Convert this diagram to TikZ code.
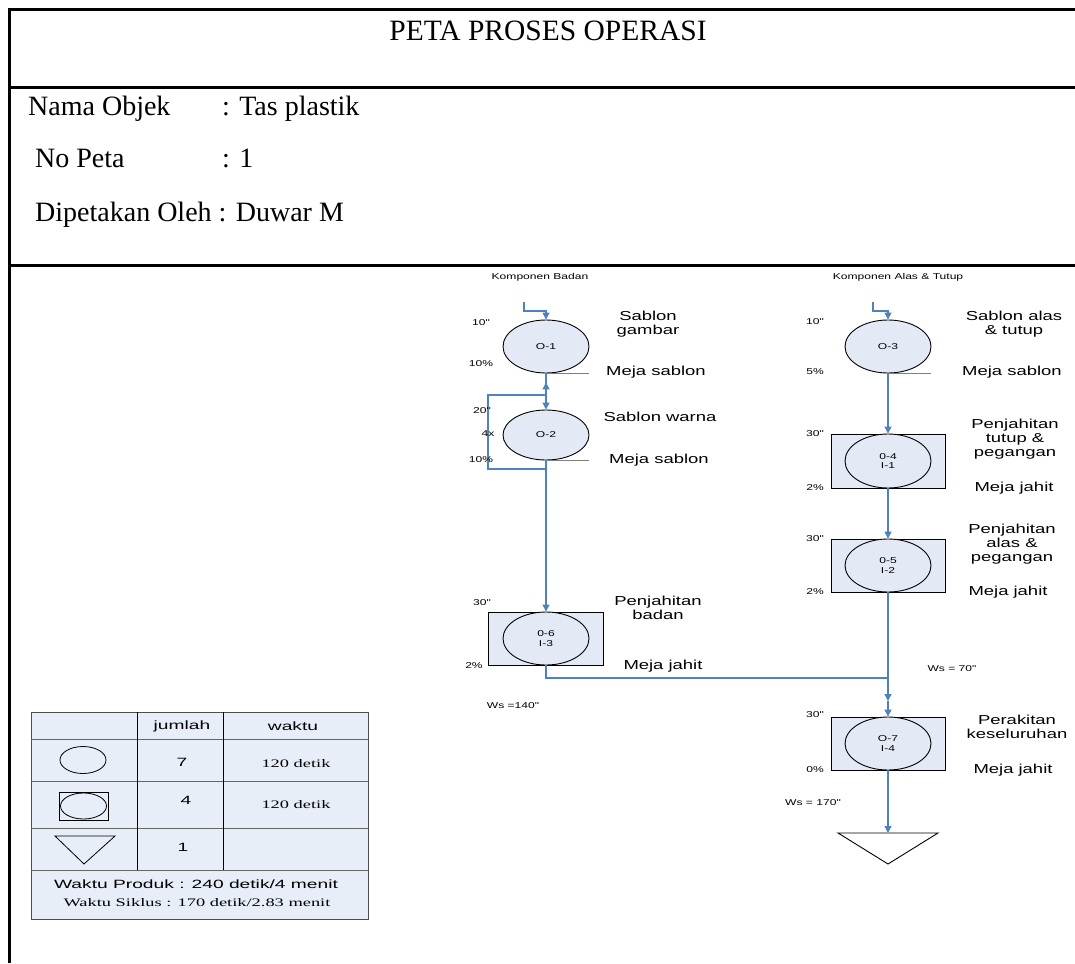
\documentclass[tikz,border=0pt]{standalone}
\usepackage{fontspec}
\usepackage{graphicx}
\setmainfont{Liberation Serif}
\newfontfamily\arialA[FakeStretch=1.42]{Liberation Sans}
\newfontfamily\arialB[FakeStretch=1.6]{Liberation Sans}
\newfontfamily\timesB[FakeStretch=1.6]{Liberation Serif}
\usetikzlibrary{shapes.geometric,arrows.meta}
\definecolor{fillc}{HTML}{E4EAF5}
\definecolor{tabfill}{HTML}{E8EEF7}
\definecolor{flowc}{HTML}{4F81BD}
\begin{document}
\begin{tikzpicture}[x=1pt,y=-1pt,
  frame/.style={line width=3pt},
  body/.style={font=\fontsize{28}{30}\selectfont, anchor=base west, inner sep=0pt},
  lbl/.style={font=\arialA\fontsize{13}{14}\selectfont, align=center, inner sep=0pt},
  sml/.style={font=\arialA\fontsize{8.5}{9.5}\selectfont, align=center, inner sep=0pt},
  opn/.style={ellipse, draw, line width=0.9pt, fill=fillc, minimum width=86pt, minimum height=53pt, inner sep=0pt, font=\arialA\fontsize{8.5}{9.5}\selectfont, align=center},
  boxn/.style={rectangle, draw, line width=0.9pt, fill=fillc, minimum width=114pt, minimum height=53pt, inner sep=0pt},
  bl/.style={draw=flowc, line width=1.3pt},
  flow/.style={bl, -{Triangle[length=7pt,width=7pt]}, color=flowc},
  meja/.style={draw=gray, line width=1pt},
  tabtxt/.style={font=\arialB\fontsize{12}{13}\selectfont, inner sep=0pt},
  tabser/.style={font=\timesB\fontsize{11.5}{13}\selectfont, inner sep=0pt}
]
\useasboundingbox (0,0) rectangle (1075,963);

% frame
\draw[frame] (9,10) -- (1075,10);
\draw[frame] (9,88) -- (1075,88);
\draw[frame] (9,265) -- (1075,265);
\draw[frame] (9,8.5) -- (9,963);

% header texts
\node[font=\fontsize{29.5}{31}\selectfont, anchor=base, inner sep=0pt] (title) at (548,41) {PETA PROSES OPERASI};
\node[body] (nama) at (28,115) {Nama Objek};
\node[body] (namav) at (222,115) {: Tas plastik};
\node[body] (nop) at (35,167) {No Peta};
\node[body] (nopv) at (222,167) {: 1};
\node[body] (dip) at (35,221) {Dipetakan Oleh : Duwar M};

% column headers
\node[sml] (kb) at (540,277) {Komponen Badan};
\node[sml] (ka) at (898,277) {Komponen Alas \& Tutup};

% left column shapes
\node[opn] (O1) at (546,346.5) {O-1};
\node[opn, minimum height=50pt] (O2) at (546,435) {O-2};
\node[boxn, minimum width=115pt] (B6) at (546,638.5) {};
\node[opn] (O6) at (546,638.5) {0-6\\I-3};

% right column shapes
\node[opn] (O3) at (888,346.5) {O-3};
\node[boxn, minimum height=54pt] (B4) at (888,461) {};
\node[opn, minimum height=54pt] (O4) at (888,461) {0-4\\I-1};
\node[boxn] (B5) at (888,565.5) {};
\node[opn] (O5) at (888,565.5) {0-5\\I-2};
\node[boxn] (B7) at (888,743.5) {};
\node[opn] (O7) at (888,743.5) {O-7\\I-4};
\coordinate (T) at (888,833);
\draw[line width=0.9pt] (838,833) -- (938,833) -- (888,864) -- cycle;

% meja lines
\draw[meja] (O1.south) -- ++(43,0);
\draw[meja] (O2.south) -- ++(43,0);
\draw[meja] (O3.south) -- ++(43,0);

% connectors left
\coordinate (s1) at (524,302);
\coordinate (k1) at (546,311);
\draw[flow] (s1) |- (k1) -- (O1.north);
\coordinate (lt) at (546,395);
\coordinate (lb) at (546,469);
\draw[bl] (O1.south) -- (lt);
\draw[flow] (lt) -- ([yshift=-9pt]O1.south);
\draw[flow] (lt) -- (O2.north);
\draw[bl] (lb) -- ++(-58,0) |- (lt);
\draw[flow] (O2.south) -- (B6.north);
\coordinate (J) at (888,678);
\draw[bl] (B6.south) |- (J);

% connectors right
\coordinate (s3) at (873,302);
\coordinate (k3) at (888,311);
\draw[flow] (s3) |- (k3) -- (O3.north);
\draw[flow] (O3.south) -- (B4.north);
\draw[flow] (B4.south) -- (B5.north);
\draw[bl] (B5.south) -- (J);
\coordinate (m7) at (888,701);
\draw[flow] (J) -- (m7);
\draw[flow] (m7) -- (B7.north);
\draw[flow] (B7.south) -- (T);

% left column labels
\node[sml] (t1a) at (481,323) {10"};
\node[sml] (t1b) at (481,364) {10\%};
\node[sml] (t2a) at (482,411) {20"};
\node[sml] (t2x) at (488,434) {4x};
\node[sml] (t2b) at (481,460) {10\%};
\node[lbl] (d1) at (648,324) {Sablon\\gambar};
\node[lbl] (m1) at (656,372) {Meja sablon};
\node[lbl] (d2) at (660,417) {Sablon warna};
\node[lbl] (m2) at (659,460) {Meja sablon};
\node[sml] (t6a) at (482,603) {30"};
\node[sml] (t6b) at (474,666) {2\%};
\node[lbl] (d6) at (658,608) {Penjahitan\\badan};
\node[lbl] (m6) at (663,666) {Meja jahit};
\node[sml] (ws1) at (513,706) {Ws =140"};

% right column labels
\node[sml] (t3a) at (815,322) {10"};
\node[sml] (t3b) at (815,372) {5\%};
\node[lbl] (d3) at (1014,324) {Sablon alas\\\& tutup};
\node[lbl] (m3) at (1012,372) {Meja sablon};
\node[sml] (t4a) at (815,434) {30"};
\node[sml] (t4b) at (815,488) {2\%};
\node[lbl] (d4) at (1015,439) {Penjahitan\\tutup \&\\pegangan};
\node[lbl] (m4) at (1014,488) {Meja jahit};
\node[sml] (t5a) at (815,539) {30"};
\node[sml] (t5b) at (815,592) {2\%};
\node[lbl] (d5) at (1012,544) {Penjahitan\\alas \&\\pegangan};
\node[lbl] (m5) at (1008,592) {Meja jahit};
\node[sml] (ws2) at (952,669) {Ws = 70"};
\node[sml] (t7a) at (815,715) {30"};
\node[sml] (t7b) at (815,770) {0\%};
\node[lbl] (d7) at (1017,727) {Perakitan\\keseluruhan};
\node[lbl] (m7t) at (1013,770) {Meja jahit};
\node[sml] (ws3) at (813,803) {Ws = 170"};

% legend table
\draw[fill=tabfill, draw=black!70, line width=0.9pt] (31,712) rectangle (368,919);
\foreach \yy in {739,781,828,870} \draw[black!60, line width=0.9pt] (31,\yy) -- (368,\yy);
\draw[line width=0.9pt] (137,712) -- (137,870);
\draw[line width=0.9pt] (223,712) -- (223,870);
\node[tabtxt] (hj) at (182,726) {jumlah};
\node[tabtxt] (hw) at (293,726) {waktu};
\node[ellipse, draw, line width=0.8pt, minimum width=46pt, minimum height=27pt, inner sep=0pt] (L1) at (83,760) {};
\node[tabtxt] (n1) at (182,762) {7};
\node[tabser] (w1) at (296,764) {120 detik};
\node[rectangle, draw, line width=0.8pt, minimum width=49pt, minimum height=28pt, inner sep=0pt] (L2) at (83.5,806) {};
\node[ellipse, draw, line width=0.8pt, minimum width=46pt, minimum height=26pt, inner sep=0pt] (L2e) at (83.5,806) {};
\node[tabtxt] (n2) at (186,800) {4};
\node[tabser] (w2) at (296,805) {120 detik};
\draw[line width=0.8pt] (55,836) -- (115,836) -- (84,864) -- cycle;
\node[tabtxt] (n3) at (183,847) {1};
\node[tabtxt] (wp) at (196,884) {Waktu Produk : 240 detik/4 menit};
\node[tabser] (wsk) at (197,903) {Waktu Siklus : 170 detik/2.83 menit};
\end{tikzpicture}
\end{document}
